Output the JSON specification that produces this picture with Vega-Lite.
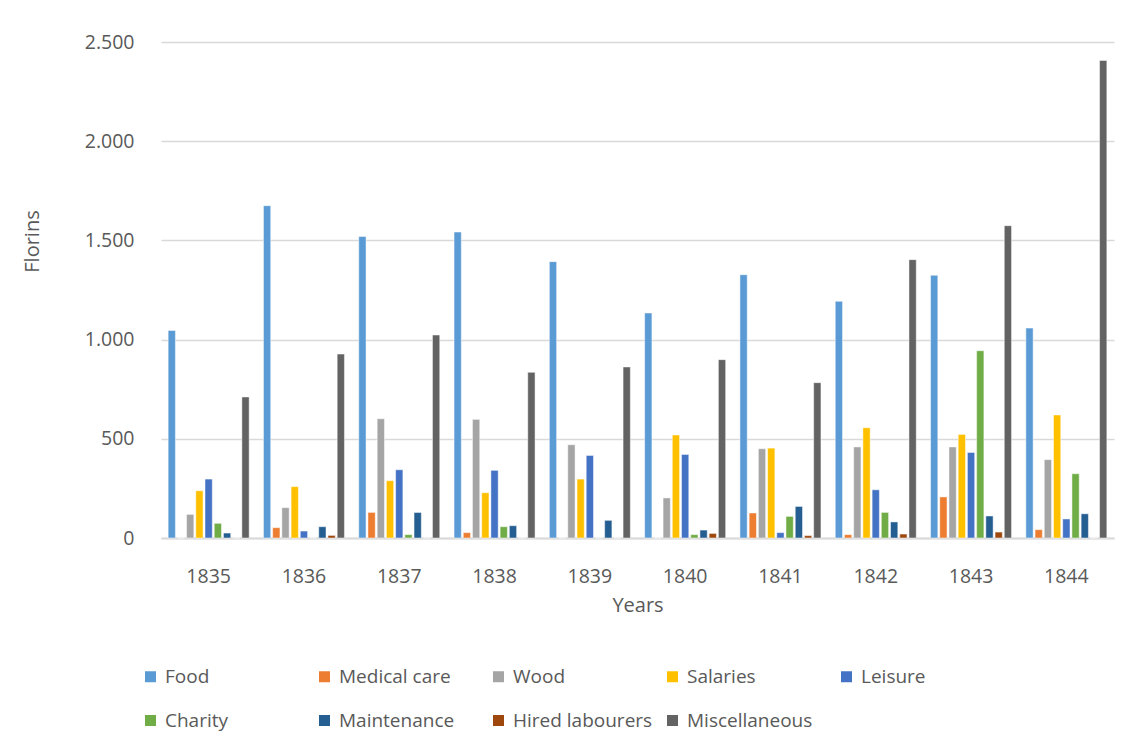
{
  "$schema": "https://vega.github.io/schema/vega-lite/v6.json",
  "width": 953,
  "height": 496,
  "autosize": {"type": "none"},
  "padding": {"left": 161, "top": 42, "right": 15, "bottom": 209},
  "background": "white",
  "config": {
    "font": "Open Sans",
    "view": {"stroke": null},
    "axis": {"labelColor": "#595959", "titleColor": "#595959", "labelFont": "Open Sans", "titleFont": "Open Sans", "titleFontWeight": "normal"},
    "legend": {"labelColor": "#595959", "labelFont": "Open Sans"}
  },
  "data": {
    "values": [
      {"year": "1835", "category": "Food", "value": 1046},
      {"year": "1835", "category": "Medical care", "value": 0},
      {"year": "1835", "category": "Wood", "value": 119},
      {"year": "1835", "category": "Salaries", "value": 238},
      {"year": "1835", "category": "Leisure", "value": 297},
      {"year": "1835", "category": "Charity", "value": 74},
      {"year": "1835", "category": "Maintenance", "value": 25},
      {"year": "1835", "category": "Hired labourers", "value": 0},
      {"year": "1835", "category": "Miscellaneous", "value": 711},
      {"year": "1836", "category": "Food", "value": 1675},
      {"year": "1836", "category": "Medical care", "value": 52},
      {"year": "1836", "category": "Wood", "value": 153},
      {"year": "1836", "category": "Salaries", "value": 259},
      {"year": "1836", "category": "Leisure", "value": 35},
      {"year": "1836", "category": "Charity", "value": 0},
      {"year": "1836", "category": "Maintenance", "value": 57},
      {"year": "1836", "category": "Hired labourers", "value": 13},
      {"year": "1836", "category": "Miscellaneous", "value": 927},
      {"year": "1837", "category": "Food", "value": 1520},
      {"year": "1837", "category": "Medical care", "value": 129},
      {"year": "1837", "category": "Wood", "value": 601},
      {"year": "1837", "category": "Salaries", "value": 289},
      {"year": "1837", "category": "Leisure", "value": 344},
      {"year": "1837", "category": "Charity", "value": 17},
      {"year": "1837", "category": "Maintenance", "value": 129},
      {"year": "1837", "category": "Hired labourers", "value": 0},
      {"year": "1837", "category": "Miscellaneous", "value": 1023},
      {"year": "1838", "category": "Food", "value": 1542},
      {"year": "1838", "category": "Medical care", "value": 27},
      {"year": "1838", "category": "Wood", "value": 598},
      {"year": "1838", "category": "Salaries", "value": 228},
      {"year": "1838", "category": "Leisure", "value": 341},
      {"year": "1838", "category": "Charity", "value": 57},
      {"year": "1838", "category": "Maintenance", "value": 62},
      {"year": "1838", "category": "Hired labourers", "value": 0},
      {"year": "1838", "category": "Miscellaneous", "value": 835},
      {"year": "1839", "category": "Food", "value": 1393},
      {"year": "1839", "category": "Medical care", "value": 0},
      {"year": "1839", "category": "Wood", "value": 470},
      {"year": "1839", "category": "Salaries", "value": 297},
      {"year": "1839", "category": "Leisure", "value": 416},
      {"year": "1839", "category": "Charity", "value": 0},
      {"year": "1839", "category": "Maintenance", "value": 89},
      {"year": "1839", "category": "Hired labourers", "value": 0},
      {"year": "1839", "category": "Miscellaneous", "value": 862},
      {"year": "1840", "category": "Food", "value": 1134},
      {"year": "1840", "category": "Medical care", "value": 0},
      {"year": "1840", "category": "Wood", "value": 202},
      {"year": "1840", "category": "Salaries", "value": 519},
      {"year": "1840", "category": "Leisure", "value": 421},
      {"year": "1840", "category": "Charity", "value": 17},
      {"year": "1840", "category": "Maintenance", "value": 40},
      {"year": "1840", "category": "Hired labourers", "value": 23},
      {"year": "1840", "category": "Miscellaneous", "value": 899},
      {"year": "1841", "category": "Food", "value": 1327},
      {"year": "1841", "category": "Medical care", "value": 126},
      {"year": "1841", "category": "Wood", "value": 450},
      {"year": "1841", "category": "Salaries", "value": 453},
      {"year": "1841", "category": "Leisure", "value": 27},
      {"year": "1841", "category": "Charity", "value": 109},
      {"year": "1841", "category": "Maintenance", "value": 159},
      {"year": "1841", "category": "Hired labourers", "value": 12},
      {"year": "1841", "category": "Miscellaneous", "value": 783},
      {"year": "1842", "category": "Food", "value": 1193},
      {"year": "1842", "category": "Medical care", "value": 17},
      {"year": "1842", "category": "Wood", "value": 459},
      {"year": "1842", "category": "Salaries", "value": 556},
      {"year": "1842", "category": "Leisure", "value": 243},
      {"year": "1842", "category": "Charity", "value": 129},
      {"year": "1842", "category": "Maintenance", "value": 81},
      {"year": "1842", "category": "Hired labourers", "value": 20},
      {"year": "1842", "category": "Miscellaneous", "value": 1403},
      {"year": "1843", "category": "Food", "value": 1324},
      {"year": "1843", "category": "Medical care", "value": 207},
      {"year": "1843", "category": "Wood", "value": 459},
      {"year": "1843", "category": "Salaries", "value": 522},
      {"year": "1843", "category": "Leisure", "value": 431},
      {"year": "1843", "category": "Charity", "value": 944},
      {"year": "1843", "category": "Maintenance", "value": 111},
      {"year": "1843", "category": "Hired labourers", "value": 30},
      {"year": "1843", "category": "Miscellaneous", "value": 1574},
      {"year": "1844", "category": "Food", "value": 1058},
      {"year": "1844", "category": "Medical care", "value": 42},
      {"year": "1844", "category": "Wood", "value": 395},
      {"year": "1844", "category": "Salaries", "value": 620},
      {"year": "1844", "category": "Leisure", "value": 96},
      {"year": "1844", "category": "Charity", "value": 324},
      {"year": "1844", "category": "Maintenance", "value": 122},
      {"year": "1844", "category": "Hired labourers", "value": 0},
      {"year": "1844", "category": "Miscellaneous", "value": 2407}
    ]
  },
  "mark": {"type": "bar", "stroke": "white", "strokeWidth": 0.6, "strokeOpacity": 0.8},
  "encoding": {
    "x": {
      "field": "year",
      "type": "nominal",
      "scale": {"paddingInner": 0.15, "paddingOuter": 0.075},
      "axis": {
        "title": "Years",
        "labelAngle": 0,
        "labelFontSize": 19.5,
        "labelPadding": 29,
        "ticks": false,
        "domainColor": "#d9d9d9",
        "domainWidth": 2,
        "titleFontSize": 20,
        "titlePadding": 10
      }
    },
    "xOffset": {
      "field": "category",
      "type": "nominal",
      "sort": ["Food", "Medical care", "Wood", "Salaries", "Leisure", "Charity", "Maintenance", "Hired labourers", "Miscellaneous"],
      "scale": {"paddingInner": 0.21, "paddingOuter": 0}
    },
    "y": {
      "field": "value",
      "type": "quantitative",
      "scale": {"domain": [0, 2500]},
      "axis": {
        "title": "Florins",
        "values": [0, 500, 1000, 1500, 2000, 2500],
        "labelExpr": "replace(format(datum.value, ','), ',', '.')",
        "labelFontSize": 19.5,
        "labelPadding": 27,
        "ticks": false,
        "domain": false,
        "gridColor": "#d9d9d9",
        "gridWidth": 1.5,
        "titleFontSize": 20,
        "titleX": -129,
        "titleY": 199,
        "titleAlign": "center",
        "titleBaseline": "middle"
      }
    },
    "color": {
      "field": "category",
      "type": "nominal",
      "sort": ["Food", "Medical care", "Wood", "Salaries", "Leisure", "Charity", "Maintenance", "Hired labourers", "Miscellaneous"],
      "scale": {
        "domain": ["Food", "Medical care", "Wood", "Salaries", "Leisure", "Charity", "Maintenance", "Hired labourers", "Miscellaneous"],
        "range": ["#5B9BD5", "#ED7D31", "#A5A5A5", "#FFC000", "#4472C4", "#70AD47", "#255E91", "#9E480E", "#636363"]
      },
      "legend": {
        "title": null,
        "orient": "none",
        "legendX": -20,
        "legendY": 625,
        "direction": "horizontal",
        "columns": 5,
        "gridAlign": "all",
        "symbolType": "square",
        "symbolSize": 121,
        "symbolStrokeWidth": 0,
        "labelFontSize": 19,
        "labelLimit": 300,
        "labelOffset": 5,
        "columnPadding": 10,
        "rowPadding": 24
      }
    }
  }
}
